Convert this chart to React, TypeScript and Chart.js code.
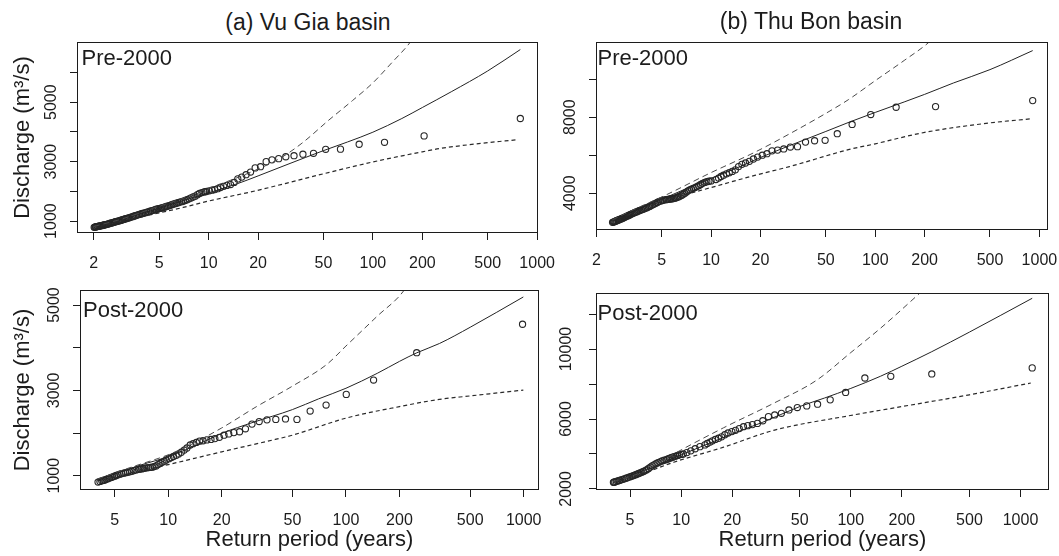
import React, { useEffect, useRef } from "react";
import { Chart, registerables } from "chart.js";

Chart.register(...registerables);

const FONT = "'Liberation Sans', Arial, Helvetica, sans-serif";
const INK = "#1c1c1c";

// ---------- tick values ----------
const xTickValues = [2, 5, 10, 20, 50, 100, 200, 500, 1000];
const vgPreYTicks = [1000, 2000, 3000, 4000, 5000, 6000];
const vgPreYLabels = [1000, 3000, 5000];
const tbPreYTicks = [4000, 6000, 8000, 10000];
const tbPreYLabels = [4000, 8000];
const vgPostYTicks = [1000, 2000, 3000, 4000, 5000];
const vgPostYLabels = [1000, 3000, 5000];
const tbPostYTicks = [2000, 4000, 6000, 8000, 10000, 12000];
const tbPostYLabels = [2000, 6000, 10000];

// ---------- (a) Vu Gia, Pre-2000 ----------
const vgPreObsT = [790, 205, 117.7, 82.5, 63.5, 51.6, 43.5, 37.5, 33.1, 29.5, 26.7, 24.3, 22.4, 20.7, 19.2, 18.0, 16.9, 15.9, 15.05, 14.3, 13.6, 12.9, 12.35, 11.8, 11.35, 10.9, 10.5, 10.1, 9.73, 9.57, 9.4, 9.1, 8.8, 8.55, 8.28, 8.05, 7.81, 7.6, 7.39, 7.2, 7.01, 6.85, 6.68, 6.52, 6.37, 6.23, 6.09, 5.96, 5.83, 5.71, 5.59, 5.48, 5.38, 5.27, 5.17, 5.08, 4.99, 4.9, 4.81, 4.73, 4.65, 4.54, 4.43, 4.32, 4.22, 4.13, 4.04, 3.95, 3.87, 3.79, 3.71, 3.64, 3.57, 3.5, 3.44, 3.37, 3.31, 3.25, 3.2, 3.14, 3.09, 3.04, 2.99, 2.94, 2.9, 2.85, 2.81, 2.76, 2.72, 2.68, 2.65, 2.61, 2.57, 2.53, 2.5, 2.46, 2.43, 2.4, 2.37, 2.34, 2.31, 2.28, 2.26, 2.23, 2.2, 2.17, 2.15, 2.12, 2.1, 2.07, 2.05, 2.03, 2.01];
const vgPreObsQ = [4450, 3865, 3650, 3585, 3420, 3415, 3280, 3250, 3200, 3165, 3100, 3060, 3000, 2830, 2790, 2650, 2560, 2480, 2420, 2300, 2230, 2200, 2170, 2130, 2090, 2060, 2040, 2020, 2000, 1990, 1980, 1960, 1930, 1890, 1840, 1810, 1780, 1750, 1720, 1695, 1670, 1655, 1640, 1620, 1600, 1585, 1570, 1550, 1530, 1515, 1500, 1485, 1470, 1455, 1440, 1430, 1420, 1410, 1400, 1385, 1370, 1355, 1340, 1320, 1300, 1285, 1270, 1255, 1240, 1225, 1210, 1195, 1180, 1165, 1150, 1135, 1120, 1108, 1095, 1082, 1070, 1058, 1045, 1032, 1020, 1010, 1000, 990, 980, 970, 960, 950, 940, 930, 920, 910, 900, 892, 885, 878, 870, 862, 855, 848, 840, 835, 830, 822, 815, 810, 805, 798, 790];
const vgPreFitT = [2, 3, 5, 7, 10, 15, 20, 30, 50, 70, 100, 150, 200, 300, 500, 790];
const vgPreFitQ = [820, 1070, 1430, 1690, 1950, 2260, 2520, 2900, 3370, 3660, 3990, 4450, 4820, 5350, 6050, 6770];
const vgPreUpT = [2, 3, 4.5, 7, 9.2, 14, 19.4, 27, 37, 54, 75, 100, 130, 169, 185];
const vgPreUpQ = [820, 1080, 1420, 1770, 2030, 2400, 2720, 3100, 3620, 4400, 5050, 5650, 6320, 7020, 7350];
const vgPreLoT = [2, 3, 4.57, 7, 10.1, 19.4, 30, 54.3, 100, 200, 255, 400, 764];
const vgPreLoQ = [800, 1020, 1230, 1460, 1680, 2020, 2280, 2640, 2990, 3330, 3440, 3580, 3740];

// ---------- (b) Thu Bon, Pre-2000 ----------
const tbPreObsT = [910, 233, 134, 93.9, 72.3, 58.7, 49.5, 42.7, 37.6, 33.6, 30.4, 27.7, 25.4, 23.5, 21.9, 20.5, 19.2, 18.1, 17.1, 16.2, 15.4, 14.7, 14.05, 13.45, 12.9, 12.4, 11.9, 11.5, 11.1, 10.7, 10.0, 9.7, 9.42, 9.15, 8.88, 8.64, 8.41, 8.19, 7.98, 7.78, 7.59, 7.41, 7.24, 7.08, 6.92, 6.77, 6.63, 6.49, 6.36, 6.24, 6.12, 6.0, 5.89, 5.78, 5.67, 5.57, 5.47, 5.38, 5.29, 5.16, 5.04, 4.92, 4.8, 4.7, 4.59, 4.5, 4.4, 4.31, 4.22, 4.14, 4.06, 3.98, 3.91, 3.84, 3.77, 3.7, 3.64, 3.57, 3.51, 3.45, 3.4, 3.34, 3.29, 3.24, 3.19, 3.14, 3.1, 3.05, 3.01, 2.97, 2.93, 2.89, 2.85, 2.81, 2.77, 2.73, 2.7, 2.66, 2.63, 2.6, 2.57, 2.54, 2.51];
const tbPreObsQ = [8870, 8557, 8522, 8139, 7617, 7130, 6783, 6760, 6690, 6450, 6430, 6330, 6270, 6230, 6080, 6000, 5900, 5800, 5680, 5590, 5520, 5400, 5230, 5150, 5080, 5020, 4950, 4880, 4800, 4720, 4650, 4630, 4610, 4570, 4520, 4460, 4400, 4350, 4300, 4260, 4220, 4180, 4130, 4060, 4000, 3950, 3900, 3860, 3820, 3790, 3760, 3740, 3720, 3710, 3700, 3690, 3680, 3670, 3660, 3640, 3620, 3590, 3560, 3515, 3470, 3430, 3390, 3350, 3310, 3275, 3240, 3210, 3180, 3155, 3130, 3105, 3080, 3050, 3020, 2995, 2970, 2945, 2920, 2890, 2860, 2835, 2810, 2785, 2760, 2735, 2710, 2685, 2660, 2640, 2620, 2600, 2580, 2560, 2540, 2520, 2500, 2485, 2470];
const tbPreFitT = [2.5, 3.5, 5, 7, 10, 15, 20, 30, 50, 70, 100, 150, 200, 300, 500, 910];
const tbPreFitQ = [2600, 3120, 3680, 4230, 4780, 5400, 5880, 6500, 7250, 7750, 8250, 8800, 9200, 9800, 10500, 11500];
const tbPreUpT = [2.5, 3.5, 5.34, 9.8, 18.7, 30, 50, 68.6, 100, 150, 213, 240];
const tbPreUpQ = [2600, 3200, 3920, 5050, 6180, 7120, 8200, 8920, 9920, 10980, 11950, 12400];
const tbPreLoT = [2.5, 3.5, 5.34, 10, 18.7, 30, 68.6, 100, 200, 500, 890];
const tbPreLoQ = [2550, 3050, 3640, 4300, 4953, 5400, 6292, 6600, 7200, 7700, 7913];

// ---------- (a) Vu Gia, Post-2000 ----------
const vgPostObsT = [985, 250, 143, 100.4, 77.3, 62.9, 53.0, 45.7, 40.3, 35.95, 32.5, 29.6, 27.2, 25.2, 23.4, 21.9, 20.6, 19.4, 18.3, 17.4, 16.5, 15.7, 15.0, 14.4, 13.8, 13.3, 12.75, 12.3, 11.85, 11.45, 11.1, 10.7, 10.4, 10.1, 9.75, 9.51, 9.25, 9.0, 8.77, 8.54, 8.33, 8.13, 7.94, 7.75, 7.58, 7.41, 7.25, 7.1, 6.95, 6.81, 6.6, 6.42, 6.24, 6.07, 5.91, 5.76, 5.62, 5.48, 5.35, 5.22, 5.1, 4.99, 4.88, 4.78, 4.68, 4.58, 4.49, 4.4, 4.31, 4.23, 4.13, 4.03];
const vgPostObsQ = [4550, 3883, 3242, 2906, 2656, 2516, 2320, 2330, 2320, 2310, 2270, 2210, 2100, 2030, 2010, 1980, 1950, 1900, 1870, 1850, 1840, 1820, 1810, 1780, 1750, 1720, 1650, 1600, 1550, 1510, 1480, 1450, 1425, 1400, 1370, 1340, 1315, 1290, 1260, 1230, 1215, 1200, 1195, 1190, 1185, 1180, 1170, 1160, 1155, 1150, 1135, 1120, 1105, 1090, 1080, 1070, 1060, 1050, 1035, 1020, 1005, 990, 975, 960, 945, 930, 915, 900, 890, 880, 865, 850];
const vgPostFitT = [4, 5, 7, 10, 15, 20, 30, 50, 70, 100, 150, 200, 250, 336, 500, 995];
const vgPostFitQ = [900, 1040, 1250, 1445, 1750, 1992, 2250, 2550, 2800, 3050, 3400, 3680, 3880, 4100, 4480, 5190];
const vgPostUpT = [4, 5.76, 11, 20, 31.4, 50, 78, 100, 150, 212, 230];
const vgPostUpQ = [920, 1155, 1560, 2120, 2620, 3100, 3609, 4040, 4740, 5343, 5600];
const vgPostLoT = [4, 5, 7, 10, 20, 40, 50, 100, 200, 336, 500, 995];
const vgPostLoQ = [880, 960, 1110, 1260, 1560, 1850, 1950, 2350, 2620, 2790, 2870, 3007];

// ---------- (b) Thu Bon, Post-2000 ----------
const tbPostObsT = [1172, 300, 172, 121, 93.2, 75.6, 63.7, 55.0, 48.4, 43.2, 39.0, 35.6, 32.7, 30.3, 28.15, 26.3, 24.7, 23.3, 22.0, 20.9, 19.9, 18.9, 18.1, 17.3, 16.6, 15.9, 15.3, 14.8, 14.25, 13.8, 12.9, 12.1, 11.4, 10.8, 10.3, 10.05, 9.77, 9.54, 9.32, 9.11, 8.91, 8.72, 8.53, 8.36, 8.19, 7.95, 7.72, 7.51, 7.3, 7.11, 6.92, 6.75, 6.59, 6.43, 6.28, 6.14, 6.0, 5.87, 5.74, 5.62, 5.51, 5.4, 5.29, 5.19, 5.09, 4.97, 4.85, 4.74, 4.63, 4.53, 4.43, 4.33, 4.24, 4.15, 4.07, 4.02, 3.99];
const tbPostObsQ = [8923, 8577, 8442, 8346, 7519, 7096, 6846, 6750, 6654, 6519, 6327, 6231, 6135, 5900, 5750, 5680, 5620, 5560, 5450, 5350, 5280, 5200, 5100, 4980, 4900, 4830, 4750, 4680, 4600, 4520, 4420, 4300, 4180, 4080, 4000, 3975, 3950, 3915, 3880, 3850, 3820, 3785, 3750, 3715, 3680, 3640, 3600, 3550, 3500, 3440, 3380, 3320, 3250, 3175, 3100, 3050, 3000, 2960, 2920, 2885, 2850, 2815, 2780, 2750, 2720, 2685, 2650, 2615, 2580, 2550, 2520, 2490, 2460, 2430, 2400, 2390, 2380];
const tbPostFitT = [4, 5, 7, 10, 15, 20, 30, 50, 70, 100, 150, 200, 300, 500, 1172];
const tbPostFitQ = [2400, 2750, 3300, 3950, 4650, 5150, 5800, 6712, 7200, 7750, 8450, 9019, 9850, 10970, 12904];
const tbPostUpT = [4, 6, 9.05, 17.8, 35.1, 63, 100, 150, 257, 290];
const tbPostUpQ = [2420, 3000, 4000, 5500, 6900, 8224, 9800, 11200, 13230, 13700];
const tbPostLoT = [4, 6, 9.05, 17.8, 35.1, 99.3, 200, 500, 1150];
const tbPostLoQ = [2380, 2900, 3529, 4391, 5351, 6200, 6712, 7385, 8058];

type PanelSpec = {
  obsT: number[]; obsQ: number[];
  fitT: number[]; fitQ: number[];
  upT: number[]; upQ: number[];
  loT: number[]; loQ: number[];
  xMin: number; xMax: number; yMin: number; yMax: number;
  yTicks: number[]; yLabels: number[];
  yTitle: boolean; xTitle: boolean;
  left: number; top: number; width: number; height: number;
  yW: number; xH: number; padTop: number; padRight: number; yLabPad: number;
};

const zip = (a: number[], b: number[]) => a.map((v, i) => ({ x: v, y: b[i] }));

const boxPlugin = {
  id: "rbox",
  afterDraw(chart: any) {
    const { ctx, chartArea: a } = chart;
    ctx.save();
    ctx.strokeStyle = INK;
    ctx.lineWidth = 1;
    const l = Math.round(a.left) + 0.5;
    const t = Math.round(a.top) + 0.5;
    const r = Math.round(a.right) - 0.5;
    const b = Math.round(a.bottom) - 0.5;
    ctx.strokeRect(l, t, r - l, b - t);
    ctx.restore();
  },
};

function Panel({ p }: { p: PanelSpec }) {
  const ref = useRef<HTMLCanvasElement>(null);
  useEffect(() => {
    const chart = new Chart(ref.current as HTMLCanvasElement, {
      type: "scatter",
      data: {
        datasets: [
          { data: zip(p.upT, p.upQ), showLine: true, borderColor: "#4a4a4a", borderWidth: 1, borderDash: [6, 4], pointRadius: 0, cubicInterpolationMode: "monotone" } as any,
          { data: zip(p.loT, p.loQ), showLine: true, borderColor: "#2a2a2a", borderWidth: 1.2, borderDash: [4, 3], pointRadius: 0, cubicInterpolationMode: "monotone" } as any,
          { data: zip(p.fitT, p.fitQ), showLine: true, borderColor: "#222", borderWidth: 1, pointRadius: 0, cubicInterpolationMode: "monotone" } as any,
          { data: zip(p.obsT, p.obsQ), showLine: false, pointRadius: 3.1, pointBorderWidth: 1.1, pointBorderColor: "#262626", pointBackgroundColor: "rgba(0,0,0,0)" } as any,
        ],
      },
      options: {
        responsive: false,
        animation: false,
        events: [],
        layout: { padding: { top: p.padTop, right: p.padRight, left: 0, bottom: 0 } },
        plugins: { legend: { display: false }, tooltip: { enabled: false }, title: { display: false } },
        scales: {
          x: {
            type: "logarithmic",
            position: "bottom",
            min: p.xMin,
            max: p.xMax,
            afterBuildTicks: (s: any) => {
              s.ticks = xTickValues.filter((v) => v >= p.xMin && v <= p.xMax).map((v) => ({ value: v }));
            },
            afterFit: (s: any) => {
              s.height = p.xH;
              s.paddingLeft = 0;
              s.paddingRight = 0;
            },
            ticks: {
              autoSkip: false, minRotation: 0, maxRotation: 0, padding: 14, color: INK,
              font: { family: FONT, size: 16 },
              callback: (v: any) => String(v),
            },
            grid: { display: true, drawOnChartArea: false, drawTicks: true, tickLength: 7, color: INK, lineWidth: 1 },
            border: { display: false },
            title: { display: p.xTitle, text: "Return period (years)", color: INK, font: { family: FONT, size: 22 }, padding: { top: 0, bottom: 0 } },
          },
          y: {
            type: "linear",
            min: p.yMin,
            max: p.yMax,
            afterBuildTicks: (s: any) => {
              s.ticks = p.yTicks.map((v) => ({ value: v }));
            },
            afterFit: (s: any) => {
              s.width = p.yW;
              s.paddingTop = 0;
              s.paddingBottom = 0;
            },
            ticks: {
              autoSkip: false, minRotation: 90, maxRotation: 90, crossAlign: "center", padding: p.yLabPad, color: INK,
              font: { family: FONT, size: 16 },
              callback: (v: any) => (p.yLabels.includes(Number(v)) ? String(v) : ""),
            },
            grid: { display: true, drawOnChartArea: false, drawTicks: true, tickLength: 7, color: INK, lineWidth: 1 },
            border: { display: false },
            title: { display: p.yTitle, text: "Discharge (m³/s)", color: INK, font: { family: FONT, size: 22 }, padding: { top: 10, bottom: 0 } },
          },
        },
      } as any,
      plugins: [boxPlugin],
    });
    return () => chart.destroy();
  }, [p]);
  return (
    <canvas
      ref={ref}
      width={p.width}
      height={p.height}
      style={{ position: "absolute", left: p.left, top: p.top, width: p.width, height: p.height }}
    />
  );
}

const panels: PanelSpec[] = [
  {
    obsT: vgPreObsT, obsQ: vgPreObsQ, fitT: vgPreFitT, fitQ: vgPreFitQ, upT: vgPreUpT, upQ: vgPreUpQ, loT: vgPreLoT, loQ: vgPreLoQ,
    xMin: 1.58, xMax: 1012, yMin: 600, yMax: 7020, yTicks: vgPreYTicks, yLabels: vgPreYLabels, yTitle: true, xTitle: false,
    left: 0, top: 37, width: 562, height: 236, yW: 77, xH: 40, padTop: 5, padRight: 24, yLabPad: 1,
  },
  {
    obsT: tbPreObsT, obsQ: tbPreObsQ, fitT: tbPreFitT, fitQ: tbPreFitQ, upT: tbPreUpT, upQ: tbPreUpQ, loT: tbPreLoT, loQ: tbPreLoQ,
    xMin: 1.99, xMax: 1128, yMin: 2068, yMax: 11947, yTicks: tbPreYTicks, yLabels: tbPreYLabels, yTitle: false, xTitle: false,
    left: 545, top: 37, width: 514, height: 236, yW: 51, xH: 43, padTop: 5, padRight: 11, yLabPad: 1,
  },
  {
    obsT: vgPostObsT, obsQ: vgPostObsQ, fitT: vgPostFitT, fitQ: vgPostFitQ, upT: vgPostUpT, upQ: vgPostUpQ, loT: vgPostLoT, loQ: vgPostLoQ,
    xMin: 3.19, xMax: 1219, yMin: 665, yMax: 5351, yTicks: vgPostYTicks, yLabels: vgPostYLabels, yTitle: true, xTitle: true,
    left: 0, top: 285, width: 545, height: 268, yW: 80, xH: 63, padTop: 5, padRight: 6, yLabPad: 1,
  },
  {
    obsT: tbPostObsT, obsQ: tbPostObsQ, fitT: tbPostFitT, fitQ: tbPostFitQ, upT: tbPostUpT, upQ: tbPostUpQ, loT: tbPostLoT, loQ: tbPostLoQ,
    xMin: 3.15, xMax: 1472, yMin: 1940, yMax: 13200, yTicks: tbPostYTicks, yLabels: tbPostYLabels, yTitle: false, xTitle: true,
    left: 545, top: 288, width: 514, height: 265, yW: 51, xH: 63, padTop: 5, padRight: 10, yLabPad: 0,
  },
];

const txt = (extra: React.CSSProperties): React.CSSProperties => ({
  position: "absolute",
  fontFamily: FONT,
  color: INK,
  whiteSpace: "nowrap",
  ...extra,
});

export default function App() {
  return (
    <div style={{ position: "absolute", left: 0, top: 0, width: 1059, height: 556, overflow: "hidden", background: "#fff" }}>
      {panels.map((p, i) => (
        <Panel key={i} p={p} />
      ))}
      <div style={txt({ left: 158, width: 300, top: 10.5, fontSize: 23, lineHeight: "23px", textAlign: "center" })}>(a) Vu Gia basin</div>
      <div style={txt({ left: 661, width: 300, top: 9.5, fontSize: 23, lineHeight: "23px", textAlign: "center" })}>(b) Thu Bon basin</div>
      <div style={txt({ left: 81.5, top: 47.4, fontSize: 22, lineHeight: "22px" })}>Pre-2000</div>
      <div style={txt({ left: 597.5, top: 47.4, fontSize: 22, lineHeight: "22px" })}>Pre-2000</div>
      <div style={txt({ left: 83, top: 298.5, fontSize: 22, lineHeight: "22px" })}>Post-2000</div>
      <div style={txt({ left: 597.5, top: 301.5, fontSize: 22, lineHeight: "22px" })}>Post-2000</div>
    </div>
  );
}
